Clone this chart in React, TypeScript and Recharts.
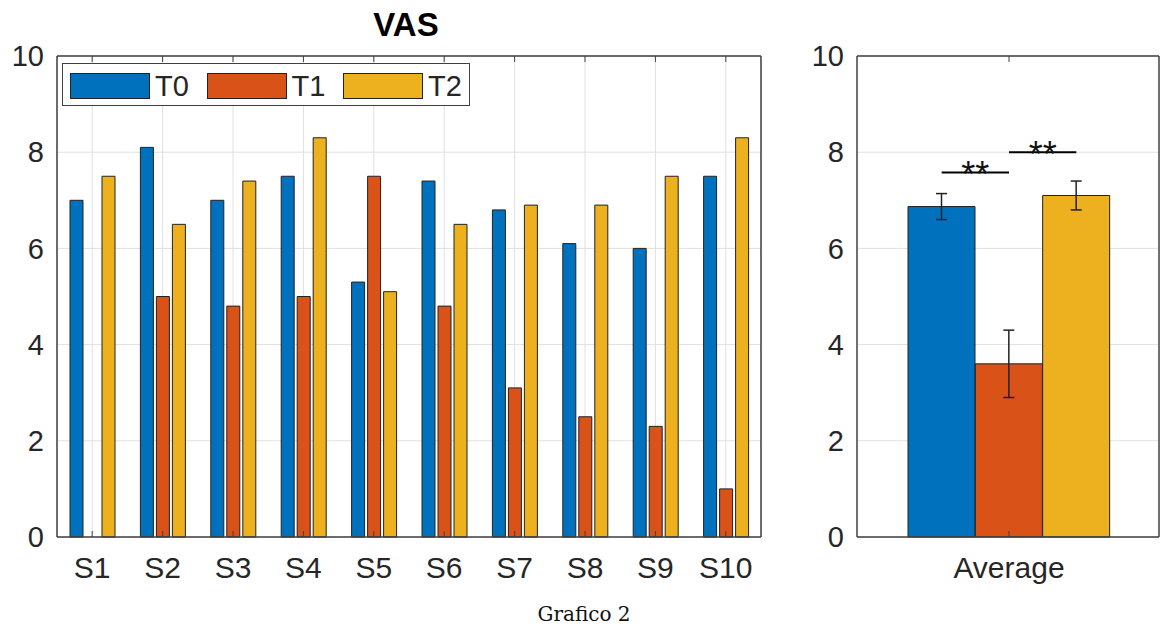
import React from "react";
import { BarChart, Bar, XAxis, YAxis, CartesianGrid, ErrorBar, Cell, ReferenceLine } from "recharts";

const subjects = ["S1", "S2", "S3", "S4", "S5", "S6", "S7", "S8", "S9", "S10"];
const t0 = [7.0, 8.1, 7.0, 7.5, 5.3, 7.4, 6.8, 6.1, 6.0, 7.5];
const t1 = [0, 5.0, 4.8, 5.0, 7.5, 4.8, 3.1, 2.5, 2.3, 1.0];
const t2 = [7.5, 6.5, 7.4, 8.3, 5.1, 6.5, 6.9, 6.9, 7.5, 8.3];

const seriesNames = ["T0", "T1", "T2"];
const seriesColors = ["#0072BD", "#D95319", "#EDB120"];

const avgValues = [6.87, 3.6, 7.1];
const avgErrors = [0.27, 0.7, 0.3];
const avgLabel = "Average";

// significance brackets: from series, to series, height, text
const sigFrom = ["T0", "T1"];
const sigTo = ["T1", "T2"];
const sigHeights = [7.58, 8.0];
const sigText = ["**", "**"];

const yTicks = [0, 2, 4, 6, 8, 10];

const AXIS = "#404040";
const GRID = "#e0e0e0";
const TEXT = "#262626";
const FONT = "'Liberation Sans', Arial, sans-serif";

const subjectData = subjects.map((s, i) => ({ name: s, T0: t0[i], T1: t1[i], T2: t2[i] }));
const avgData = seriesNames.map((n, i) => ({ name: n, value: avgValues[i], err: avgErrors[i] }));

const SigLabel = (props: any) => {
  const vb = props.viewBox || {};
  const cx = vb.x + (vb.width || 0) / 2;
  const cy = vb.y + (vb.height || 0) / 2;
  return (
    <text x={cx} y={cy + 14.5} textAnchor="middle" fontSize={36} fontFamily={FONT} fill="#111">
      {props.text}
    </text>
  );
};

// empty tick label so only the inward tick line is drawn
const NoLabel = () => <g />;

const yTickStyle = { fontSize: 29, fill: TEXT, fontFamily: FONT };
const xTickStyle = { fontSize: 30, fill: TEXT, fontFamily: FONT };

function Legend() {
  return (
    <div
      style={{
        position: "absolute",
        left: 62,
        top: 63,
        width: 408,
        height: 43,
        border: `1.5px solid ${AXIS}`,
        background: "#fff",
        boxSizing: "border-box",
        fontFamily: FONT,
      }}
    >
      {seriesNames.map((n, i) => (
        <div key={n} style={{ position: "absolute", left: 7 + i * 136.5, top: 9, display: "flex", alignItems: "center" }}>
          <div
            style={{
              width: 80,
              height: 26,
              background: seriesColors[i],
              border: "1px solid #222",
              boxSizing: "border-box",
            }}
          />
          <span style={{ marginLeft: 5, fontSize: 29, color: TEXT, lineHeight: "26px" }}>{n}</span>
        </div>
      ))}
    </div>
  );
}

export default function App() {
  return (
    <div style={{ position: "absolute", left: 0, top: 0, width: 1160, height: 628, background: "#fff" }}>
      <div
        style={{
          position: "absolute",
          left: 306,
          top: 8,
          width: 200,
          textAlign: "center",
          fontFamily: FONT,
          fontWeight: "bold",
          fontSize: 33,
          lineHeight: 1,
          color: "#000",
        }}
      >
        VAS
      </div>

      <div style={{ position: "absolute", left: 0, top: 0 }}>
        <BarChart
          width={780}
          height={600}
          data={subjectData}
          margin={{ top: 56, right: 19, bottom: 13, left: 0 }}
          barSize={13}
          barGap={3}
        >
          <CartesianGrid xAxisId="b" yAxisId="l" stroke={GRID} strokeWidth={1} />
          <XAxis
            xAxisId="b"
            dataKey="name"
            height={50}
            tickLine={false}
            tickSize={0}
            tickMargin={20}
            axisLine={{ stroke: AXIS, strokeWidth: 1.5 }}
            tick={xTickStyle}
            interval={0}
          />
          <XAxis xAxisId="bt" dataKey="name" mirror tick={NoLabel} tickSize={6} tickLine={{ stroke: AXIS }} axisLine={false} interval={0} />
          <XAxis
            xAxisId="t"
            dataKey="name"
            orientation="top"
            mirror
            tick={NoLabel}
            tickSize={6}
            tickLine={{ stroke: AXIS }}
            axisLine={{ stroke: AXIS, strokeWidth: 1.5 }}
            interval={0}
          />
          <YAxis
            yAxisId="l"
            width={57}
            domain={[0, 10]}
            ticks={yTicks}
            tickLine={false}
            tickSize={0}
            tickMargin={13}
            axisLine={{ stroke: AXIS, strokeWidth: 1.5 }}
            tick={yTickStyle}
          />
          <YAxis yAxisId="lt" domain={[0, 10]} ticks={yTicks} mirror tick={NoLabel} tickSize={6} tickLine={{ stroke: AXIS }} axisLine={false} />
          <YAxis
            yAxisId="r"
            orientation="right"
            domain={[0, 10]}
            ticks={yTicks}
            mirror
            tick={NoLabel}
            tickSize={6}
            tickLine={{ stroke: AXIS }}
            axisLine={{ stroke: AXIS, strokeWidth: 1.5 }}
          />
          {seriesNames.map((n, i) => (
            <Bar
              key={n}
              xAxisId="b"
              yAxisId="l"
              dataKey={n}
              fill={seriesColors[i]}
              stroke="#222"
              strokeWidth={1}
              isAnimationActive={false}
            />
          ))}
        </BarChart>
      </div>

      <Legend />

      <div style={{ position: "absolute", left: 780, top: 0 }}>
        <BarChart
          width={380}
          height={600}
          data={avgData}
          margin={{ top: 56, right: 1, bottom: 13, left: 0 }}
          barCategoryGap={0}
        >
          <CartesianGrid xAxisId="b" yAxisId="l" vertical={false} stroke={GRID} strokeWidth={1} />
          <XAxis
            xAxisId="b"
            dataKey="name"
            height={50}
            padding={{ left: 51, right: 49 }}
            tickLine={false}
            tickSize={0}
            tickMargin={20}
            axisLine={{ stroke: AXIS, strokeWidth: 1.5 }}
            tick={xTickStyle}
            interval={0}
            tickFormatter={(v: string, i: number) => (i === 1 ? avgLabel : "")}
          />
          <XAxis
            xAxisId="bt"
            dataKey="name"
            padding={{ left: 51, right: 49 }}
            mirror
            tick={NoLabel}
            tickSize={6}
            tickLine={{ stroke: AXIS }}
            axisLine={false}
            ticks={["T1"]}
          />
          <XAxis
            xAxisId="t"
            dataKey="name"
            orientation="top"
            padding={{ left: 51, right: 49 }}
            mirror
            tick={NoLabel}
            tickSize={6}
            tickLine={{ stroke: AXIS }}
            axisLine={{ stroke: AXIS, strokeWidth: 1.5 }}
            ticks={["T1"]}
          />
          <YAxis
            yAxisId="l"
            width={77}
            domain={[0, 10]}
            ticks={yTicks}
            tickLine={false}
            tickSize={0}
            tickMargin={13}
            axisLine={{ stroke: AXIS, strokeWidth: 1.5 }}
            tick={yTickStyle}
          />
          <YAxis yAxisId="lt" domain={[0, 10]} ticks={yTicks} mirror tick={NoLabel} tickSize={6} tickLine={{ stroke: AXIS }} axisLine={false} />
          <YAxis
            yAxisId="r"
            orientation="right"
            domain={[0, 10]}
            ticks={yTicks}
            mirror
            tick={NoLabel}
            tickSize={6}
            tickLine={{ stroke: AXIS }}
            axisLine={{ stroke: AXIS, strokeWidth: 1.5 }}
          />
          <Bar xAxisId="b" yAxisId="l" dataKey="value" stroke="#222" strokeWidth={1} isAnimationActive={false}>
            {avgData.map((d, i) => (
              <Cell key={d.name} fill={seriesColors[i]} />
            ))}
            <ErrorBar dataKey="err" width={5.5} stroke="#222" strokeWidth={1.5} isAnimationActive={false} />
          </Bar>
          {sigHeights.map((h, i) => (
            <ReferenceLine
              key={i}
              xAxisId="b"
              yAxisId="l"
              segment={[
                { x: sigFrom[i], y: h },
                { x: sigTo[i], y: h },
              ]}
              stroke="#000"
              strokeWidth={2}
              label={<SigLabel text={sigText[i]} />}
            />
          ))}
        </BarChart>
      </div>

      <div
        style={{
          position: "absolute",
          left: 484,
          top: 604,
          width: 200,
          textAlign: "center",
          fontFamily: "'DejaVu Serif', 'Liberation Serif', serif",
          fontSize: 20,
          lineHeight: 1,
          color: "#111",
        }}
      >
        Grafico 2
      </div>
    </div>
  );
}
